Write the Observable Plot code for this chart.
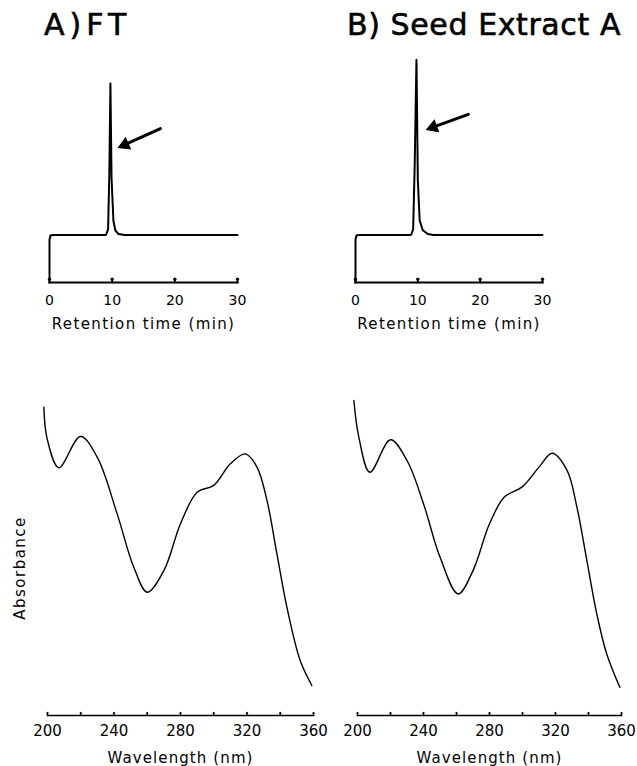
<!DOCTYPE html>
<html><head><meta charset="utf-8">
<script src="https://cdn.jsdelivr.net/npm/d3@7"></script>
<script src="https://cdn.jsdelivr.net/npm/@observablehq/plot@0.6"></script>
<style>
body{margin:0;background:#fff;}
#root{position:relative;width:637px;height:766px;overflow:hidden;font-family:"DejaVu Sans",sans-serif;color:#000;background:#fff;}
.title{position:absolute;font-size:30px;line-height:30px;white-space:nowrap;-webkit-text-stroke:0.6px #000;}
.panel{position:absolute;}
.panel svg{overflow:visible;}
</style></head><body><div id="root"></div>
<script>
// ---- data ----
const panelTitles = ["A)FT", "B) Seed Extract A"];
const timeTicks = [0, 10, 20, 30];
const timeLabel = "Retention time (min)";
const wlTicks = [200, 240, 280, 320, 360];
const wlMinorTicks = [200, 220, 240, 260, 280, 300, 320, 340, 360];
const wlLabel = "Wavelength (nm)";
const absLabel = "Absorbance";

// chromatograms (arbitrary detector units)
const chromA_time   = [0, 0, 0.15, 0.6, 9.0, 9.35, 9.55, 9.72, 9.9, 10.2, 10.5, 11.0, 12.0, 30];
const chromA_signal = [0, 0.9, 0.99, 1.0, 1.0, 1.12, 2.3, 4.19, 2.2, 1.3, 1.1, 1.02, 1.0, 1.0];
const chromB_time   = [0, 0, 0.15, 0.6, 8.9, 9.25, 9.5, 9.78, 10.0, 10.3, 10.8, 11.6, 12.5, 30];
const chromB_signal = [0, 0.9, 0.99, 1.0, 1.0, 1.12, 2.5, 4.69, 2.15, 1.3, 1.1, 1.02, 1.0, 1.0];
// arrows pointing at the peak (tail x1,y1 -> tip x2,y2 in time / signal units)
const arrowA = {x1: 17.7, y1: 3.24, x2: 11.0, y2: 2.84};
const arrowB = {x1: 18.1, y1: 3.54, x2: 11.4, y2: 3.22};

// UV spectra (relative absorbance)
const uvA_wl  = [197.8, 199.8, 206.8, 219.8, 229.9, 241.9, 251.9, 260, 270, 280, 290, 300, 310, 319, 326, 332, 338, 344, 352, 359];
const uvA_abs = [0.978, 0.872, 0.776, 0.88, 0.811, 0.622, 0.444, 0.361, 0.433, 0.589, 0.694, 0.717, 0.789, 0.822, 0.778, 0.667, 0.489, 0.311, 0.133, 0.05];
const uvB_wl  = [197.8, 200.8, 207.5, 220, 230, 240, 250, 261, 270, 280, 289, 300, 310, 318, 327, 333, 339, 345, 351, 359];
const uvB_abs = [1.0, 0.878, 0.761, 0.869, 0.8, 0.656, 0.478, 0.355, 0.433, 0.589, 0.678, 0.713, 0.778, 0.824, 0.767, 0.644, 0.467, 0.289, 0.156, 0.044];

// ---- drawing ----
const root = document.getElementById("root");
const FONT = "DejaVu Sans";

function place(node, left, top) {
  const d = document.createElement("div");
  d.className = "panel";
  d.style.left = left + "px";
  d.style.top = top + "px";
  d.appendChild(node);
  root.appendChild(d);
}

function addTitle(text, left, top, spacing) {
  const d = document.createElement("div");
  d.className = "title";
  d.style.left = left + "px";
  d.style.top = top + "px";
  d.style.letterSpacing = spacing + "px";
  d.textContent = text;
  root.appendChild(d);
}

function spaceText(svg, label, spacing) {
  d3.select(svg).selectAll("text").filter(function () { return this.textContent === label; })
    .style("letter-spacing", spacing + "px");
  return svg;
}

function chrom(time, signal, arrow, width, ml, mr) {
  const data = time.map((t, i) => ({t, s: signal[i]}));
  const H = 300, mt = 4.5, mb = 58, xDom = [0, 30], yDom = [0, 5];
  // pixel direction of the arrow (for the filled head)
  const kx = (width - ml - mr) / (xDom[1] - xDom[0]);
  const ky = (H - mt - mb) / (yDom[1] - yDom[0]);
  const px = (arrow.x2 - arrow.x1) * kx, py = -(arrow.y2 - arrow.y1) * ky;
  const len = Math.hypot(px, py), ux = px / len, uy = py / len;
  const angle = Math.atan2(ux, -uy) * 180 / Math.PI;
  const back = 7;
  const svg = Plot.plot({
    width, height: H, marginLeft: ml, marginRight: mr, marginTop: mt, marginBottom: mb,
    x: {domain: xDom},
    y: {domain: yDom, axis: null},
    style: {fontFamily: FONT, fontSize: "14px", background: "transparent", overflow: "visible", color: "#000"},
    marks: [
      Plot.frame({anchor: "bottom", strokeWidth: 2}),
      Plot.axisX({ticks: timeTicks, tickSize: 0, tickPadding: 13, label: null, fontSize: 14}),
      Plot.vectorX(timeTicks, {x: d => d, frameAnchor: "bottom", length: 4, anchor: "start", strokeWidth: 2}),
      Plot.line(data, {x: "t", y: "s", strokeWidth: 2, strokeLinejoin: "round"}),
      Plot.arrow([arrow], {x1: "x1", y1: "y1", x2: "x2", y2: "y2", strokeWidth: 3, headLength: 0, insetEnd: back}),
      Plot.dot([arrow], {x: "x2", y: "y2", symbol: "triangle", r: 4.5, fill: "#000", stroke: "#000", strokeWidth: 1, rotate: angle, dx: -back * ux, dy: -back * uy}),
      Plot.text([timeLabel], {text: d => d, frameAnchor: "bottom", dy: 46, fontSize: 15})
    ]
  });
  return spaceText(svg, timeLabel, 1.4);
}

function uv(wl, abs, width, ml, mr, withY) {
  const data = wl.map((w, i) => ({w, a: abs[i]}));
  const marks = [
    Plot.frame({anchor: "bottom", strokeWidth: 1.6}),
    Plot.axisX({ticks: wlTicks, tickSize: 0, tickPadding: 10, label: null, fontSize: 15}),
    Plot.vectorX(wlMinorTicks, {x: d => d, frameAnchor: "bottom", length: 3, anchor: "start", strokeWidth: 1.3}),
    Plot.line(data, {x: "w", y: "a", curve: "catmull-rom", strokeWidth: 1.4}),
    Plot.text([wlLabel], {text: d => d, frameAnchor: "bottom", dy: 47, fontSize: 15})
  ];
  if (withY) marks.push(Plot.text([absLabel], {text: d => d, frameAnchor: "left", textAnchor: "middle", dx: -27, dy: 10, rotate: -90, fontSize: 15}));
  const svg = Plot.plot({
    width, height: 386, marginLeft: ml, marginRight: mr, marginTop: 20, marginBottom: 51,
    x: {domain: [200, 360]},
    y: {domain: [-0.05, 1], axis: null},
    style: {fontFamily: FONT, fontSize: "15px", background: "transparent", overflow: "visible", color: "#000"},
    marks
  });
  spaceText(svg, wlLabel, 1.1);
  spaceText(svg, absLabel, 1.5);
  return svg;
}

addTitle(panelTitles[0], 44, 10, 5);
addTitle(panelTitles[1], 347, 10, 0.6);
place(chrom(chromA_time, chromA_signal, arrowA, 320, 49, 83), 0, 40);
place(chrom(chromB_time, chromB_signal, arrowB, 317, 35, 95), 320, 40);
place(uv(uvA_wl, uvA_abs, 320, 47, 7, true), 0, 380);
place(uv(uvB_wl, uvB_abs, 317, 37, 16, false), 320, 380);
</script>
</body></html>
